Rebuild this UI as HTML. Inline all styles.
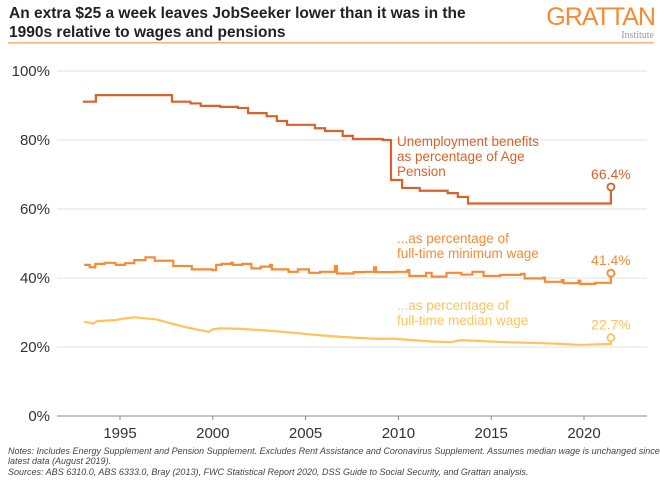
<!DOCTYPE html>
<html><head><meta charset="utf-8"><style>
body{margin:0;background:#fff;width:660px;height:488px;overflow:hidden;font-family:"Liberation Sans",Arial,sans-serif}
svg{display:block}
</style></head><body>
<svg id="chart" width="660" height="488" xmlns="http://www.w3.org/2000/svg">
<text x="9" y="18" font-size="15.5" font-weight="bold" fill="#222">An extra $25 a week leaves JobSeeker lower than it was in the</text>
<text x="9" y="37" font-size="15.5" font-weight="bold" fill="#222">1990s relative to wages and pensions</text>
<text x="655" y="25" font-size="25" fill="#F68B33" text-anchor="end" letter-spacing="-1">GRATTAN</text>
<text x="654" y="38" font-size="10" fill="#999" text-anchor="end" font-family="Liberation Serif,serif">Institute</text>
<rect x="8" y="42" width="646" height="1.5" fill="#F9B07A"/>
<g id="grid"></g><g id="series"></g>
<text x="8" y="454" font-size="9" font-style="italic" fill="#444">Notes: Includes Energy Supplement and Pension Supplement. Excludes Rent Assistance and Coronavirus Supplement. Assumes median wage is unchanged since</text>
<text x="8" y="464" font-size="9" font-style="italic" fill="#444">latest data (August 2019).</text>
<text x="8" y="475" font-size="9" font-style="italic" fill="#444">Sources: ABS 6310.0, ABS 6333.0, Bray (2013), FWC Statistical Report 2020, DSS Guide to Social Security, and Grattan analysis.</text>
</svg>
<script>
const yTicks=[0,20,40,60,80,100];
const xTicks=[1995,2000,2005,2010,2015,2020];
const endYear=2021.45;
const ageYears=[1993.0,1993.7,1997.8,1998.8,1999.35,2000.4,2001.35,2001.9,2002.9,2003.45,2004.0,2005.5,2006.05,2007.0,2007.55,2009.15,2009.6,2010.2,2011.15,2012.65,2013.2,2013.75];
const ageValues=[91.1,93.0,91.1,90.6,89.9,89.6,89.3,87.8,86.9,85.5,84.4,83.4,82.6,81.2,80.3,80.0,68.4,66.1,65.3,64.6,63.5,61.6];
const ageEnd=66.4;
const minYears=[1993.07,1993.37,1993.67,1994.17,1994.67,1994.77,1995.27,1995.77,1996.37,1996.87,1997.87,1998.87,1999.98,2000.18,2000.48,2000.98,2001.08,2001.58,2002.08,2002.58,2003.08,2003.18,2004.08,2004.58,2005.18,2005.78,2006.58,2006.69,2007.59,2008.19,2008.69,2008.79,2009.79,2010.49,2010.59,2011.49,2011.79,2012.59,2013.39,2013.99,2014.59,2015.49,2016.6,2016.8,2017.8,2017.9,2018.8,2018.9,2019.7,2019.8,2020.6];
const minValues=[43.8,43.1,44.1,44.4,44.3,43.8,44.3,45.2,46.0,45.0,43.5,42.5,42.3,43.8,44.1,44.4,43.8,44.1,42.8,43.3,43.8,42.5,41.8,42.5,41.5,41.8,43.5,41.3,41.7,41.8,43.1,41.7,41.8,42.3,40.6,41.5,40.4,41.5,41.0,41.8,40.6,40.9,41.2,39.9,40.1,38.9,39.4,38.5,39.2,38.3,38.6];
const minEnd=41.4;
const medYears=[1993.07,1993.57,1993.77,1994.77,1995.27,1995.77,1996.97,1997.78,1998.58,1999.78,1999.98,2000.38,2001.38,2002.58,2003.78,2005.78,2006.98,2008.79,2009.79,2011.79,2012.79,2013.39,2015.79,2017.8,2018.8,2019.8,2021.4];
const medValues=[27.3,26.8,27.5,27.8,28.3,28.6,28.0,26.8,25.7,24.4,25.1,25.4,25.3,24.9,24.4,23.4,22.9,22.4,22.4,21.6,21.4,22.0,21.4,21.1,20.9,20.6,20.9];
const medEnd=22.7;

const X=yr=>120+(yr-1995)*18.56;
const Y=v=>416-v*3.45;
const NS="http://www.w3.org/2000/svg";
const grid=document.getElementById('grid'),ser=document.getElementById('series');
function mk(tag,attrs,parent,txt){const e=document.createElementNS(NS,tag);for(const k in attrs)e.setAttribute(k,attrs[k]);if(txt!==undefined)e.textContent=txt;parent.appendChild(e);return e;}
yTicks.forEach(t=>{
  const l=mk('line',{x1:57,x2:647,y1:Y(t),y2:Y(t),stroke:t===0?'#888':'#e2e2e2','stroke-width':1},grid);
  
  
  const tx=mk('text',{x:50,y:Y(t)+5,'font-size':15,fill:'#333','text-anchor':'end'},grid,t+'%');
  
  
});
xTicks.forEach(t=>{
  const l=mk('line',{x1:X(t),x2:X(t),y1:416,y2:420,stroke:'#888'},grid);
  
  
  const tx=mk('text',{x:X(t),y:438,'font-size':15,fill:'#333','text-anchor':'middle'},grid,String(t));
  
  
});
function stepPath(ys,vs,endV,smooth){
  let d='';
  ys.forEach((yr,i)=>{
    if(i===0)d+='M'+X(yr)+','+Y(vs[i]);
    else if(smooth)d+='L'+X(yr)+','+Y(vs[i]);
    else d+='L'+X(yr)+','+Y(vs[i-1])+'L'+X(yr)+','+Y(vs[i]);
  });
  d+='L'+X(endYear)+','+Y(vs[vs.length-1])+'L'+X(endYear)+','+Y(endV);
  return d;
}
function series(name,ys,vs,endV,col,smooth,label,lx,ly,lines){
  const p=mk('path',{d:stepPath(ys,vs,endV,smooth),fill:'none',stroke:col,'stroke-width':2.2},ser);
  
  
  const c=mk('circle',{cx:X(endYear),cy:Y(endV),r:3.5,fill:'#fff',stroke:col,'stroke-width':1.8},ser);
  
  
  const v=mk('text',{x:X(endYear),y:Y(endV)-8,'font-size':14,fill:col,'text-anchor':'middle'},ser,label);
  
  
  lines.forEach((s,i)=>{
    const t=mk('text',{x:lx,y:ly+i*15,'font-size':13.5,fill:col},ser,s);
    
    
  });
}
series('age-pension',ageYears,ageValues,ageEnd,'#D9622B',false,ageEnd+'%',397,146,['Unemployment benefits','as percentage of Age','Pension']);
series('minimum-wage',minYears,minValues,minEnd,'#F68B33',false,minEnd+'%',397,243,['...as percentage of','full-time minimum wage']);
series('median-wage',medYears,medValues,medEnd,'#FFC35A',true,medEnd+'%',397,310,['...as percentage of','full-time median wage']);
</script>
</body></html>
